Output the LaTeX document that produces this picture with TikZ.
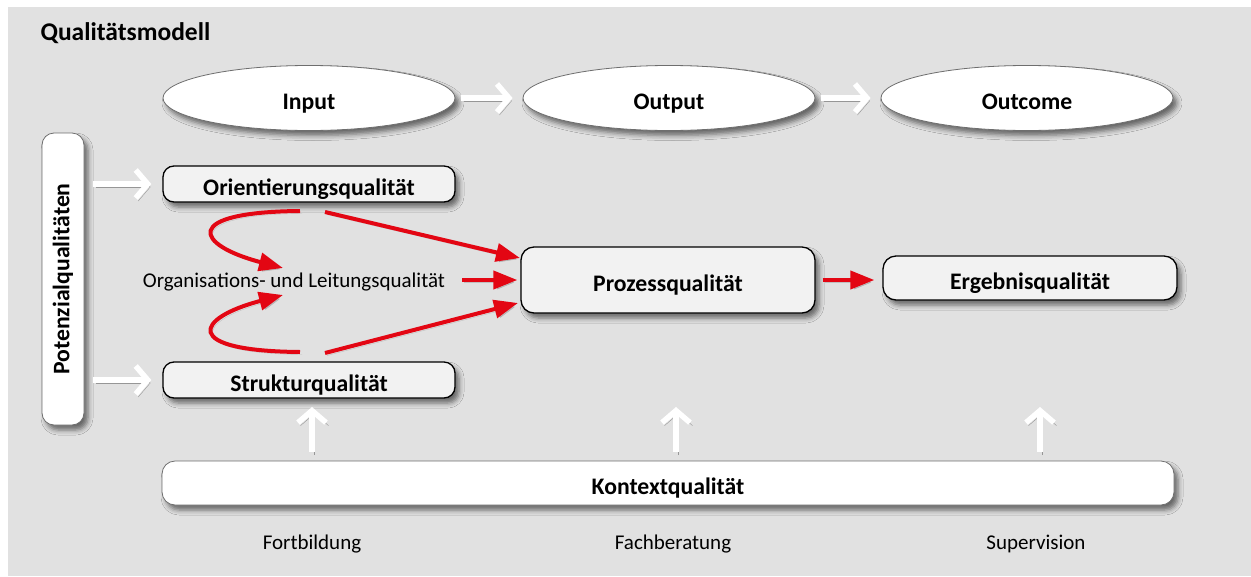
\documentclass[tikz,border=0pt]{standalone}
\usepackage{fontspec}
\setmainfont{Carlito}
\usetikzlibrary{shapes.geometric,arrows.meta,shadows.blur}
\definecolor{bg}{HTML}{E1E1E1}
\definecolor{boxfill}{HTML}{F2F2F2}
\definecolor{qred}{HTML}{E30613}
\definecolor{rim}{HTML}{6E6E6E}
\begin{document}
\begin{tikzpicture}[x=1pt,y=-1pt,
  shd/.style={blur shadow={shadow xshift=4pt,shadow yshift=-5pt,shadow blur radius=5pt,shadow opacity=55}},
  lbl/.style={font=\fontsize{23.7}{28}\selectfont\bfseries},
  ctr/.style={text height=22pt,text depth=0pt},
  plain/.style={font=\fontsize{21}{25}\selectfont},
  oval/.style={ellipse,draw=rim,line width=0.8pt,fill=white,minimum width=292pt,minimum height=65pt,inner sep=0pt,shd,lbl,ctr},
  qbox/.style={rectangle,rounded corners=11pt,draw=black,line width=1.3pt,fill=boxfill,inner sep=0pt,shd,lbl,ctr},
  wbox/.style={rectangle,rounded corners=13pt,draw=rim,line width=0.8pt,fill=white,inner sep=0pt,shd,lbl},
  warrow/.style={draw=white,line width=5.5pt,-{Straight Barb[length=12pt,width=28pt]},
     preaction={draw=black,opacity=0.33,transform canvas={xshift=2.5pt,yshift=-3pt}}},
  rarrow/.style={draw=qred,line width=4pt,-{Triangle[length=24pt,width=18pt]},
     preaction={draw=black,opacity=0.15,transform canvas={xshift=2pt,yshift=-2.5pt}}}
]
\useasboundingbox (0,0) rectangle (1251,576);
\fill[bg] (8,7) rectangle (1251,576);

\node[anchor=west,font=\fontsize{25.5}{30}\selectfont\bfseries] (title) at (37,33) {Qualitätsmodell};

% ellipses
\node[oval] (input) at (309,98) {Input};
\node[oval] (output) at (669,98) {Output};
\node[oval] (outcome) at (1027,98) {Outcome};

% potential box
\node[wbox,minimum width=42pt,minimum height=292pt,rounded corners=12pt] (pot) at (63,279) {};
\node[lbl,rotate=90] (pottxt) at (pot.center) {Potenzialqualitäten};

% quality boxes
\node[qbox,minimum width=292pt,minimum height=36pt] (orient) at (309,184) {Orientierungsqualität};
\node[qbox,minimum width=292pt,minimum height=36pt] (struk) at (309,380) {Strukturqualität};
\node[qbox,minimum width=294pt,minimum height=66pt,rounded corners=13pt] (proz) at (668,280) {Prozessqualität};
\node[qbox,minimum width=294pt,minimum height=44pt,rounded corners=13pt] (ergeb) at (1030,278) {Ergebnisqualität};
\node[wbox,ctr,minimum width=1012pt,minimum height=44pt] (kontext) at (668,483) {Kontextqualität};

\node[plain] (org) at (294,282) {Organisations- und Leitungsqualität};

\node[plain] (fb) at (312,544) {Fortbildung};
\node[plain] (fa) at (673,544) {Fachberatung};
\node[plain] (sv) at (1036,544) {Supervision};

% white arrows
\draw[warrow,shorten <=6pt,shorten >=10pt] (input.east) -- (output.west);
\draw[warrow,shorten <=6pt,shorten >=10pt] (output.east) -- (outcome.west);
\draw[warrow,shorten <=9pt,shorten >=11pt] (pot.east |- orient.west) -- (orient.west);
\draw[warrow,shorten <=9pt,shorten >=11pt] (pot.east |- struk.west) -- (struk.west);

\coordinate (u1) at (312,452);
\coordinate (u2) at (676,452);
\coordinate (u3) at (1040,452);
\coordinate (v1) at (312,407);
\coordinate (v2) at (676,407);
\coordinate (v3) at (1040,407);
\draw[warrow] (u1) -- (v1);
\draw[warrow] (u2) -- (v2);
\draw[warrow] (u3) -- (v3);

% red arrows
\coordinate (oa) at (300,211);
\coordinate (ob) at (325,212);
\coordinate (sa) at (300,352);
\coordinate (sb) at (325,353);
\coordinate (ta) at (283,268);
\coordinate (tb) at (283,295);
\coordinate (pa) at (520,258);
\coordinate (pb) at (518,303);
\coordinate (oe) at (462,280);
\draw[rarrow] (oa) .. controls (180,212) and (195,245) .. (ta);
\draw[rarrow] (sa) .. controls (180,351) and (195,318) .. (tb);
\draw[rarrow] (ob) -- (pa);
\draw[rarrow] (sb) -- (pb);
\draw[rarrow] (oe) -- ([xshift=-3pt]proz.west);
\draw[rarrow,shorten <=7pt,shorten >=8pt] (proz.east) -- (ergeb.west |- proz.east);
\end{tikzpicture}
\end{document}
